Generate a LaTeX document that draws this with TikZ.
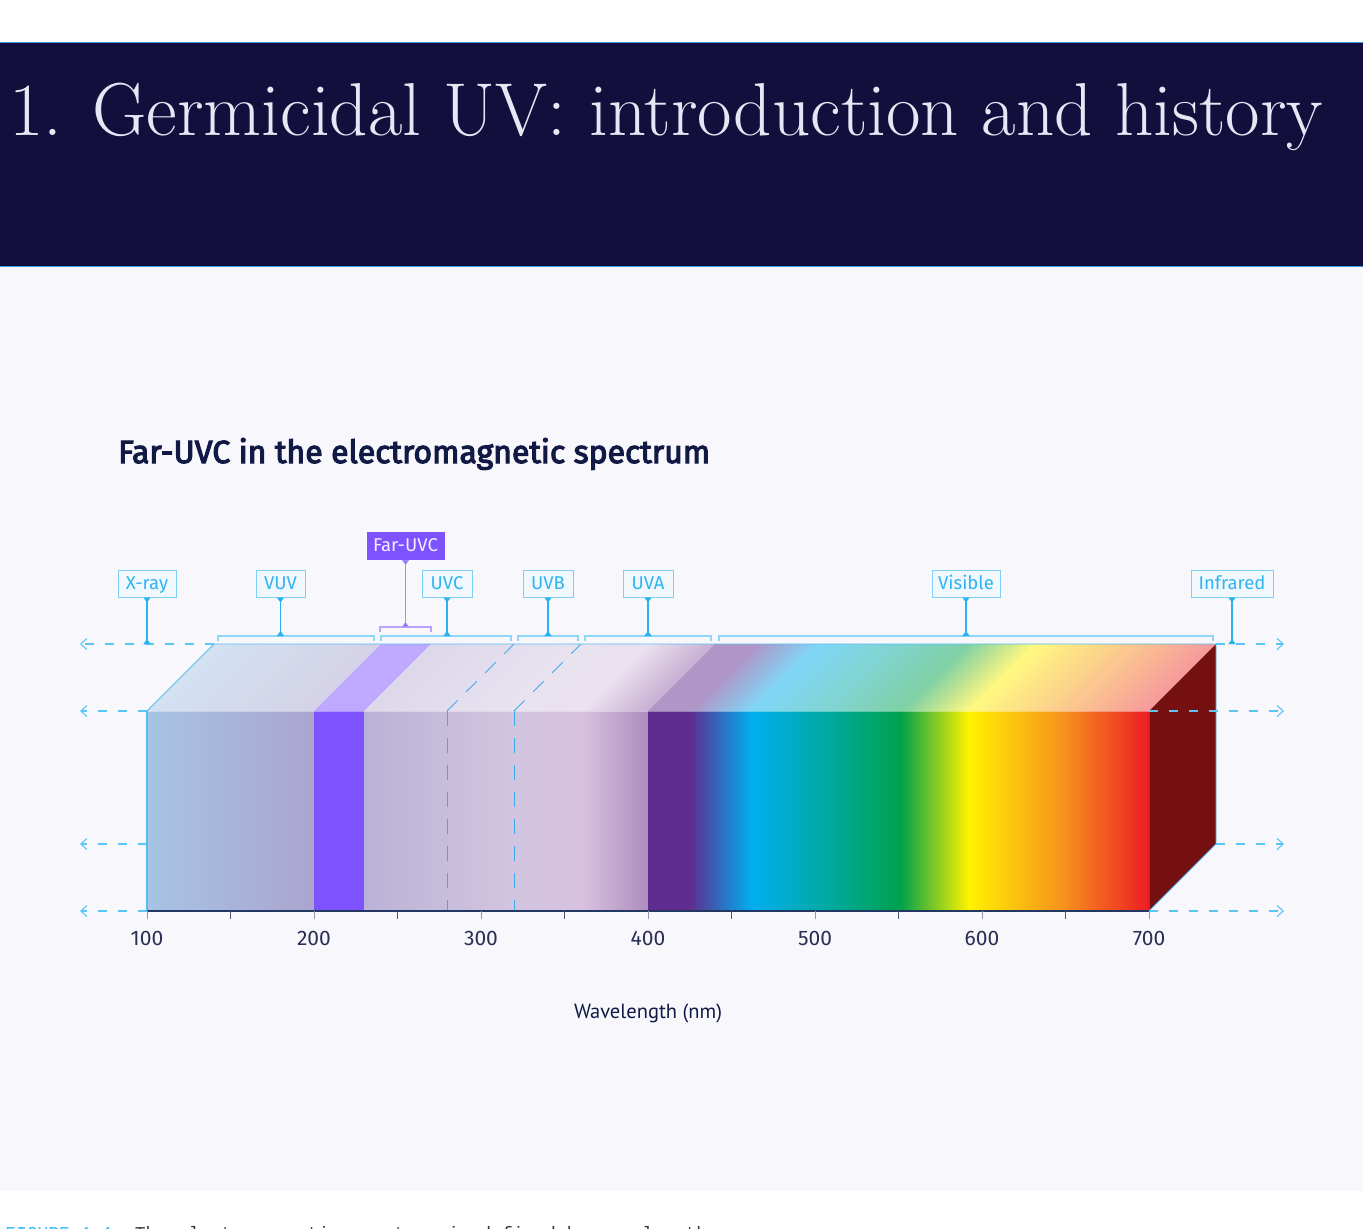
\documentclass[tikz,border=0pt]{standalone}
\usepackage{fontspec}
\usetikzlibrary{arrows.meta}
\newfontfamily\labelfont{Fira Sans}
\newfontfamily\wavefont{PT Sans}
\newfontfamily\capfont{Liberation Mono}

\definecolor{navy}{HTML}{120F3D}
\definecolor{bgc}{HTML}{F7F7FC}
\definecolor{hdrline}{HTML}{3B9BE0}
\definecolor{titletext}{HTML}{E8E6F5}
\definecolor{subtitlec}{HTML}{101A44}
\definecolor{guidec}{HTML}{5BC5F5}
\definecolor{lblborder}{HTML}{7DD0F7}
\definecolor{lblfill}{HTML}{F0F8FE}
\definecolor{lbltext}{HTML}{2FB4F0}
\definecolor{stemc}{HTML}{27B2F2}
\definecolor{bracketc}{HTML}{8FD6F8}
\definecolor{farpurple}{HTML}{7F52FF}
\definecolor{farlight}{HTML}{BFA8FF}
\definecolor{farstem}{HTML}{A58BFF}
\definecolor{farbracket}{HTML}{B9A3FF}
\definecolor{farlbltext}{HTML}{F2EEFF}
\definecolor{rightface}{HTML}{74100F}
\definecolor{axisc}{HTML}{233763}
\definecolor{tickc}{HTML}{4A5578}
\definecolor{tickc2}{HTML}{9096AE}
\definecolor{ticktext}{HTML}{2B2E55}
\definecolor{edgec}{HTML}{55BCF2}
\definecolor{rightedge}{HTML}{55506A}
\definecolor{dashv}{HTML}{3FA9F0}
\definecolor{capcyan}{HTML}{29B6F6}
\definecolor{captext}{HTML}{333333}

% front colours
\definecolor{uvA}{HTML}{A6C4E4}
\definecolor{uvB}{HTML}{ABA4CF}
\definecolor{umA}{HTML}{BAB2D6}
\definecolor{umB}{HTML}{D2C5E0}
\definecolor{umC}{HTML}{D7C2DE}
\definecolor{umD}{HTML}{AE8CC0}
\definecolor{vpurple}{HTML}{5F2D8F}
\definecolor{vblue}{HTML}{00AEEF}
\definecolor{vteal}{HTML}{00A99D}
\definecolor{vgreen}{HTML}{00A14B}
\definecolor{vyellow}{HTML}{FFF200}
\definecolor{vorange}{HTML}{F7941D}
\definecolor{vred}{HTML}{ED1C24}
% top colours
\colorlet{uvAT}{uvA!50!white}
\colorlet{uvBT}{uvB!50!white}
\colorlet{umAT}{umA!50!white}
\colorlet{umBT}{umB!50!white}
\colorlet{umCT}{umC!50!white}
\colorlet{umDT}{umD!70!white}
\colorlet{vpurpleT}{vpurple!50!white}
\colorlet{vblueT}{vblue!50!white}
\colorlet{vtealT}{vteal!50!white}
\colorlet{vgreenT}{vgreen!50!white}
\colorlet{vyellowT}{vyellow!50!white}
\colorlet{vorangeT}{vorange!50!white}
\colorlet{vredT}{vred!45!white}

\pgfdeclarehorizontalshading{uvmid}{100bp}{color(0bp)=(umA); color(25bp)=(umA); color(51.5bp)=(umB); color(63.2bp)=(umC); color(75bp)=(umD); color(100bp)=(umD)}
\pgfdeclarehorizontalshading{uvmidT}{100bp}{color(0bp)=(umAT); color(25bp)=(umAT); color(51.5bp)=(umBT); color(63.2bp)=(umCT); color(75bp)=(umDT); color(100bp)=(umDT)}
\pgfdeclarehorizontalshading{visible}{100bp}{color(0bp)=(vpurple); color(25bp)=(vpurple); color(29.2bp)=(vpurple); color(35.3bp)=(vblue); color(43.3bp)=(vteal); color(50.2bp)=(vgreen); color(57bp)=(vyellow); color(66.2bp)=(vorange); color(75bp)=(vred); color(100bp)=(vred)}
\pgfdeclarehorizontalshading{visibleT}{100bp}{color(0bp)=(vpurpleT); color(25bp)=(vpurpleT); color(29.2bp)=(vpurpleT); color(35.3bp)=(vblueT); color(43.3bp)=(vtealT); color(50.2bp)=(vgreenT); color(57bp)=(vyellowT); color(66.2bp)=(vorangeT); color(75bp)=(vredT); color(100bp)=(vredT)}

\begin{document}
\begin{tikzpicture}[x=1pt,y=-1pt,
  guide/.style={draw=guidec, line width=1.1pt, dash pattern=on 9pt off 11pt, -{Straight Barb[length=6pt,width=11pt]}},
  lbl/.style={draw=lblborder, fill=lblfill, text=lbltext, line width=1pt, font=\labelfont\fontsize{18.5}{18.5}\selectfont, minimum height=27pt, minimum width=#1, inner sep=0pt, text height=14pt, text depth=3pt},
  stem/.style={draw=stemc, line width=1.1pt, {Triangle[reversed,length=5pt,width=7pt]}-{Triangle[reversed,length=5pt,width=7pt]}},
  bracketline/.style={draw=bracketc, line width=1.3pt},
  tickmark/.style={draw=tickc, line width=1pt},
  ticklbl/.style={text=ticktext, font=\labelfont\fontsize{21}{21}\selectfont, inner sep=0pt},
  dashedge/.style={draw=dashv, line width=0.9pt, dash pattern=on 15pt off 12pt},
]
\useasboundingbox (0,0) rectangle (1363,1229);
\clip (0,0) rectangle (1363,1229);

% ---------- background and header ----------
\fill[white] (0,0) rectangle (1363,1229);
\fill[navy] (0,42) rectangle (1363,267);
\draw[hdrline, line width=1.4pt] (0,42.5) -- (1363,42.5);
\draw[hdrline, line width=1.4pt] (0,266.5) -- (1363,266.5);
\fill[bgc] (0,267.2) rectangle (1363,1191);

\node[anchor=base west, inner sep=0pt, text=titletext, font=\fontsize{75}{75}\selectfont] (title) at (9,135) {1. Germicidal UV: introduction and history};

\node[anchor=base west, inner sep=0pt, text=subtitlec] (subtitle) at (118,463) {\resizebox{592pt}{!}{\special{pdf:literal direct 2 Tr 0.35 w}\labelfont Far-UVC in the electromagnetic spectrum\special{pdf:literal direct 0 Tr}}};

% ---------- bar coordinates ----------
\coordinate (ftl) at (147,711);
\coordinate (fbl) at (147,911);
\coordinate (ftr) at (1149,711);
\coordinate (fbr) at (1149,911);
\coordinate (btl) at (214,644);
\coordinate (btr) at (1216,644);
\coordinate (bbr) at (1216,844);
\coordinate (fl844) at (147,844);

% ---------- front face ----------
\shade[left color=uvA, right color=uvB] (147,711) rectangle (314.5,911);
\fill[farpurple] (314,711) rectangle (364.5,911);
\shade[shading=uvmid] (364,711) rectangle (648.5,911);
\shade[shading=visible] (648,711) rectangle (1149,911);

% ---------- top face (sheared) ----------
\begin{scope}[transform canvas={shift={(0,711)}, xslant=1}]
  \shade[left color=uvAT, right color=uvBT] (147,0) rectangle (314.5,-67);
  \fill[farlight] (314,0) rectangle (364.5,-67);
  \shade[shading=uvmidT] (364,0) rectangle (648.5,-67);
  \shade[shading=visibleT] (648,0) rectangle (1149,-67);
\end{scope}

% ---------- right face ----------
\fill[rightface] (ftr) -- (btr) -- (bbr) -- (fbr) -- cycle;

% seam between top and front
\draw[white, opacity=0.35, line width=0.8pt] (ftl) -- (ftr);

% dashed boundaries at 280 and 320 nm
\draw[dashedge] (447,711) -- (447,911);
\draw[dashedge] (514,711) -- (514,911);
\draw[dashedge] (447,711) -- (514,644);
\draw[dashedge] (514,711) -- (581,644);

% ---------- outlines ----------
\draw[edgec, line width=0.9pt] (ftl) -- (btl) -- (btr) -- (bbr) -- (fbr);
\draw[edgec, line width=1.8pt] (fbl) -- (ftl);
\draw[rightedge, line width=0.8pt] (ftr) -- (fbr);
\draw[axisc, line width=1.2pt] (fbl) -- (fbr);

% ---------- ticks ----------
\foreach \w in {150,250,350,450,550,650}{
  \draw[tickmark] ({147+(\w-100)*1.67},911) -- ({147+(\w-100)*1.67},919);
}
\foreach \w in {100,200,300,400,500,600,700}{
  \draw[tickmark, draw=tickc2] ({147+(\w-100)*1.67},911) -- ({147+(\w-100)*1.67},919);
  \node[ticklbl] (t\w) at ({147+(\w-100)*1.67},938) {\w};
}

\node[text=subtitlec, font=\wavefont\fontsize{20.5}{20.5}\selectfont, inner sep=0pt] (wl) at (648,1013) {Wavelength (nm)};

% ---------- guide rows ----------
\coordinate (la644) at (80,644);
\coordinate (la711) at (80,711);
\coordinate (la844) at (80,844);
\coordinate (la911) at (80,911);
\coordinate (ra644) at (1284,644);
\coordinate (ra711) at (1284,711);
\coordinate (ra844) at (1284,844);
\coordinate (ra911) at (1284,911);
\draw[guide] (btl) -- (la644);
\draw[guide] (ftl) -- (la711);
\draw[guide] (fl844) -- (la844);
\draw[guide] (fbl) -- (la911);
\draw[guide] (btr) -- (ra644);
\draw[guide] (ftr) -- (ra711);
\draw[guide] (bbr) -- (ra844);
\draw[guide] (fbr) -- (ra911);

% ---------- brackets ----------
\draw[bracketline] (218,641) -- (218,636) -- (374,636) -- (374,641);
\draw[bracketline] (381,641) -- (381,636) -- (511,636) -- (511,641);
\draw[bracketline] (518,641) -- (518,636) -- (578,636) -- (578,641);
\draw[bracketline] (585,641) -- (585,636) -- (711,636) -- (711,641);
\draw[bracketline] (719,641) -- (719,636) -- (1213,636) -- (1213,641);
\draw[farbracket, line width=1.3pt] (380,632) -- (380,627) -- (431,627) -- (431,632);

% ---------- labels ----------
\node[lbl=58pt] (xray) at (147,583.5) {X-ray};
\node[lbl=49pt] (vuv) at (280.5,583.5) {VUV};
\node[lbl=50pt] (uvc) at (447,583.5) {UVC};
\node[lbl=50pt] (uvb) at (548,583.5) {UVB};
\node[lbl=50pt] (uva) at (648,583.5) {UVA};
\node[lbl=68pt] (vis) at (966,583.5) {Visible};
\node[lbl=82pt] (ir) at (1232,583.5) {Infrared};
\node[lbl=77pt, fill=farpurple, draw=farpurple, text=farlbltext] (far) at (405.5,546) {Far-UVC};

\coordinate (xrayfoot) at (147,644);
\coordinate (vuvfoot) at (280.5,636);
\coordinate (uvcfoot) at (447,636);
\coordinate (uvbfoot) at (548,636);
\coordinate (uvafoot) at (648,636);
\coordinate (visfoot) at (966,636);
\coordinate (irfoot) at (1232,644);
\coordinate (farfoot) at (405.5,627);

\draw[stem] (xray.south) -- (xrayfoot);
\draw[stem] (vuv.south) -- (vuvfoot);
\draw[stem] (uvc.south) -- (uvcfoot);
\draw[stem] (uvb.south) -- (uvbfoot);
\draw[stem] (uva.south) -- (uvafoot);
\draw[stem] (vis.south) -- (visfoot);
\draw[stem] (ir.south) -- (irfoot);
\draw[stem, draw=farstem, {Triangle[reversed,length=5pt,width=7pt,fill=farpurple]}-{Triangle[reversed,length=5pt,width=7pt,fill=farpurple]}] (far.south) -- (farfoot);

% ---------- caption (cut off at the lower edge, as in the reference) ----------
\node[anchor=base west, inner sep=0pt, text=captext, font=\capfont\fontsize{18}{18}\selectfont] (caption) at (5,1239) {\textcolor{capcyan}{FIGURE 1.1}\hspace{21.6pt}The electromagnetic spectrum is defined by wavelength};
\end{tikzpicture}
\end{document}
